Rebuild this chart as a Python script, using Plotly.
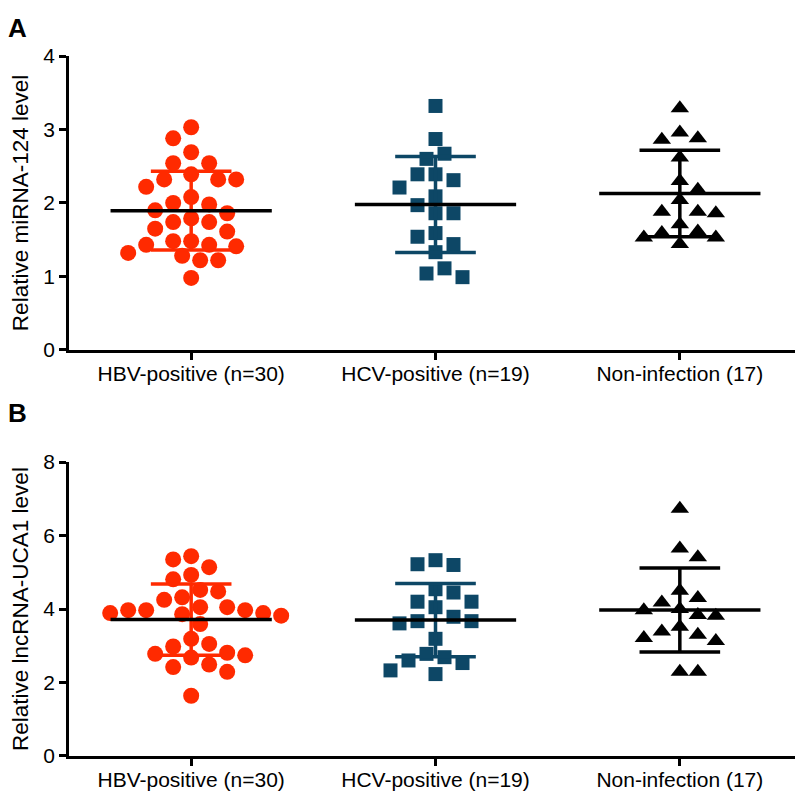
import numpy as np
import plotly.graph_objects as go

# ---------------- data ----------------
categories = ["HBV-positive (n=30)", "HCV-positive (n=19)", "Non-infection (17)"]

# Panel A: relative miRNA-124 level
mir_hbv = [3.03, 2.88, 2.69, 2.54, 2.54, 2.39, 2.32, 2.32, 2.32, 2.22,
           2.08, 2.00, 1.98, 1.90, 1.86, 1.79, 1.74, 1.74, 1.61, 1.65,
           1.48, 1.48, 1.43, 1.41, 1.43, 1.32, 1.28, 1.22, 1.22, 0.98]
mir_hcv = [3.32, 2.87, 2.67, 2.60, 2.39, 2.39, 2.31, 2.21, 2.09, 1.97,
           1.86, 1.86, 1.59, 1.54, 1.44, 1.33, 1.11, 1.04, 0.99]
mir_non = [3.29, 2.96, 2.86, 2.88, 2.62, 2.30, 2.18, 2.04, 1.88, 1.86,
           1.88, 1.71, 1.61, 1.53, 1.53, 1.59, 1.44]

# Panel B: relative lncRNA-UCA1 level
uca_hbv = [5.44, 5.35, 5.14, 4.93, 4.81, 4.48, 4.52, 4.25, 4.32, 4.05,
           3.97, 3.97, 3.89, 3.82, 3.86, 3.89, 3.97, 4.05, 3.59, 3.05,
           3.19, 2.98, 2.78, 2.68, 2.81, 2.74, 2.42, 2.49, 2.29, 1.64]
uca_hcv = [5.33, 5.20, 5.22, 4.54, 4.45, 4.20, 4.20, 4.05, 3.67, 3.61,
           3.67, 3.79, 3.19, 2.78, 2.69, 2.53, 2.60, 2.23, 2.33]
uca_non = [6.73, 5.65, 5.41, 4.50, 4.30, 4.18, 3.97, 4.00, 3.82, 3.84,
           3.52, 3.39, 3.21, 3.30, 3.13, 2.29, 2.29]

yticks_a = [0, 1, 2, 3, 4]
yticks_b = [0, 2, 4, 6, 8]
ytitle_a = "Relative miRNA-124 level"
ytitle_b = "Relative lncRNA-UCA1 level"

# ---------------- styling / layout ----------------
W, H = 803, 792
ML, MR, MT, MB = 61, 9, 48, 39
plot_w = W - ML - MR
plot_h = H - MT - MB
dom_a = [(753 - 344) / plot_h, 1.0]
dom_b = [0.0, (753 - 457) / plot_h]
colors = ["#FF2A00", "#0D4766", "#000000"]
symbols = ["circle", "square", "triangle-up"]
sizes = [16, 14, 16]
FONT = "Arial, Liberation Sans, sans-serif"
TICKSIZE = 21
TITLESIZE = 22.5

xpx = plot_w / 3.0


def swarm(vals, ypx, d=17.0, step=9.0):
    """Simple beeswarm: horizontal offsets (in x data units) from the values."""
    vals = np.asarray(vals, float)
    order = np.argsort(-vals, kind="stable")
    placed = []
    off = np.zeros(len(vals))
    flip = 1
    for i in order:
        y = vals[i] * ypx
        k = 0
        while True:
            cands = [0.0] if k == 0 else [flip * k * step, -flip * k * step]
            ok = None
            for c in cands:
                if all((c - px) ** 2 + (y - py) ** 2 >= d * d for px, py in placed):
                    ok = c
                    break
            if ok is not None:
                break
            k += 1
        off[i] = ok / xpx
        placed.append((ok, y))
        flip = -flip
    return off


fig = go.Figure()

panels = [
    ([mir_hbv, mir_hcv, mir_non], "x", "y", yticks_a, dom_a),
    ([uca_hbv, uca_hcv, uca_non], "x2", "y2", yticks_b, dom_b),
]

for groups, xa, ya, yt, dom in panels:
    ypx = (dom[1] - dom[0]) * plot_h / yt[-1]
    # points
    for gi, vals in enumerate(groups):
        off = swarm(vals, ypx)
        fig.add_trace(go.Scatter(
            x=(gi + 1) + off, y=vals, mode="markers", xaxis=xa, yaxis=ya,
            marker=dict(symbol=symbols[gi], size=sizes[gi], color=colors[gi],
                        line=dict(width=0)),
            showlegend=False, hoverinfo="y"))
    # SD bars and mean lines
    for gi, vals in enumerate(groups):
        m = float(np.mean(vals))
        s = float(np.std(vals, ddof=1))
        c = gi + 1
        fig.add_trace(go.Scatter(
            x=[c, c, None, c - 0.165, c + 0.165, None, c - 0.165, c + 0.165],
            y=[m - s, m + s, None, m + s, m + s, None, m - s, m - s],
            mode="lines", xaxis=xa, yaxis=ya,
            line=dict(color=colors[gi], width=3.5),
            showlegend=False, hoverinfo="skip"))
        fig.add_trace(go.Scatter(
            x=[c - 0.33, c + 0.33], y=[m, m], mode="lines", xaxis=xa, yaxis=ya,
            line=dict(color="#000000", width=3.5),
            showlegend=False, hoverinfo="skip"))

axis_common = dict(showline=True, linecolor="black", linewidth=2.5,
                   ticks="outside", tickcolor="black", tickwidth=2.5, ticklen=7,
                   showgrid=False, zeroline=False,
                   tickfont=dict(family=FONT, size=TICKSIZE, color="black"))

xcommon = dict(axis_common, range=[0.5, 3.5], tickvals=[1, 2, 3],
               ticktext=categories, ticklabelstandoff=-4)

fig.update_layout(
    width=W, height=H,
    margin=dict(l=ML, r=MR, t=MT, b=MB, pad=0),
    paper_bgcolor="white", plot_bgcolor="white",
    font=dict(family=FONT, color="black"),
    xaxis=dict(xcommon, domain=[0, 1], anchor="y"),
    yaxis=dict(axis_common, domain=dom_a, range=[0, 4], tickvals=yticks_a,
               anchor="x", automargin=False,
               title=dict(text=ytitle_a, font=dict(family=FONT, size=TITLESIZE), standoff=14)),
    xaxis2=dict(xcommon, domain=[0, 1], anchor="y2"),
    yaxis2=dict(axis_common, domain=dom_b, range=[0, 8], tickvals=yticks_b,
                anchor="x2", automargin=False,
                title=dict(text=ytitle_b, font=dict(family=FONT, size=TITLESIZE), standoff=14)),
    annotations=[
        dict(text="<b>A</b>", xref="paper", yref="paper", x=-52 / plot_w, y=1 + 28 / plot_h,
             showarrow=False, font=dict(family=FONT, size=26, color="black"),
             xanchor="center", yanchor="middle"),
        dict(text="<b>B</b>", xref="paper", yref="paper", x=-52 / plot_w,
             y=(753 - 408) / plot_h,
             showarrow=False, font=dict(family=FONT, size=26, color="black"),
             xanchor="center", yanchor="middle"),
    ],
)

fig.write_html("out.html")
